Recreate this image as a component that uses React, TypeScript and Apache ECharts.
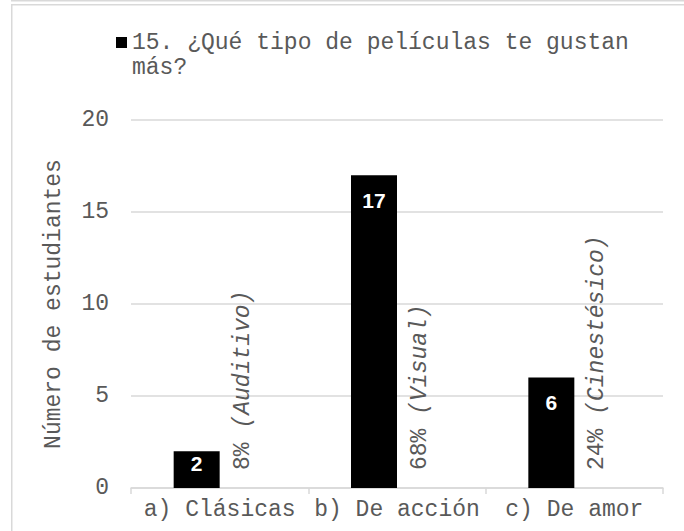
import React, { useEffect, useRef } from "react";
import * as echarts from "echarts";

const categories = ["a) Clásicas", "b) De acción", "c) De amor"];
const students = [2, 17, 6];
const percents = [8, 68, 24];
const learningStyles = ["Auditivo", "Visual", "Cinestésico"];
const yMin = 0;
const yMax = 20;
const yStep = 5;
const seriesName = "15. ¿Qué tipo de películas te gustan más?";
const yAxisTitle = "Número de estudiantes";

const MONO = "'Liberation Mono', 'Courier New', monospace";
const TEXT = "#595959";
const LINE = "#d9d9d9";

export default function App() {
  const ref = useRef<HTMLDivElement>(null);

  useEffect(() => {
    if (!ref.current) return;
    const chart = echarts.init(ref.current, null, { renderer: "svg" });
    chart.setOption({
      animation: false,
      backgroundColor: "#ffffff",
      graphic: [
        {
          type: "line",
          silent: true,
          shape: { x1: 11, y1: 0.75, x2: 700, y2: 0.75 },
          style: { stroke: LINE, lineWidth: 1.5 },
        },
        {
          type: "rect",
          silent: true,
          shape: { x: 11.75, y: 4.75, width: 700, height: 600 },
          style: { fill: "none", stroke: LINE, lineWidth: 1.5 },
        },
      ],
      legend: {
        left: 116,
        top: 30,
        padding: 0,
        data: [seriesName],
        itemWidth: 11,
        itemHeight: 36,
        icon: "path://M0,0L11,0L11,11L0,11ZM0,36",
        formatter: (name: string) => name.replace(" más?", "\nmás?"),
        textStyle: {
          fontFamily: MONO,
          fontSize: 23,
          lineHeight: 25,
          color: TEXT,
        },
      },
      grid: {
        left: 131,
        right: 21,
        top: 120,
        bottom: 43,
        containLabel: false,
        outerBoundsMode: "none",
      },
      xAxis: {
        type: "category",
        data: categories,
        axisLine: { lineStyle: { color: LINE, width: 1.5 } },
        axisTick: { show: true, length: 6, lineStyle: { color: LINE, width: 1.5 } },
        axisLabel: {
          interval: 0,
          margin: 10,
          fontFamily: MONO,
          fontSize: 23,
          color: TEXT,
        },
      },
      yAxis: [
        {
          type: "value",
          min: yMin,
          max: yMax,
          interval: yStep,
          name: yAxisTitle,
          nameLocation: "middle",
          nameGap: 66,
          nameTextStyle: { fontFamily: MONO, fontSize: 23, color: TEXT },
          axisLine: { show: false },
          axisTick: { show: false },
          axisLabel: { margin: 22, fontFamily: MONO, fontSize: 23, color: TEXT },
          splitLine: { lineStyle: { color: LINE, width: 1.5 } },
        },
        {
          type: "value",
          min: 0,
          max: 100,
          show: false,
          splitLine: { show: false },
        },
      ],
      series: [
        {
          name: seriesName,
          type: "bar",
          barWidth: 46,
          barGap: "0%",
          data: students.map((v) => ({
            value: v,
            label: { distance: v < 3 ? 2 : 14.5 },
          })),
          itemStyle: { color: "#000000" },
          label: {
            show: true,
            position: "insideTop",
            color: "#ffffff",
            fontFamily: "'Liberation Sans', Arial, sans-serif",
            fontWeight: "bold",
            fontSize: 21,
          },
        },
        {
          name: "pct",
          type: "bar",
          yAxisIndex: 1,
          barWidth: 46,
          barGap: "0%",
          data: percents,
          itemStyle: { color: "rgba(0,0,0,0)" },
          label: {
            show: true,
            position: "insideBottom",
            rotate: 90,
            align: "left",
            verticalAlign: "middle",
            distance: 18,
            formatter: (p: any) =>
              `{p|${percents[p.dataIndex]}%} {s|(${learningStyles[p.dataIndex]})}`,
            fontFamily: MONO,
            fontSize: 23,
            color: TEXT,
            rich: {
              p: { fontFamily: MONO, fontSize: 23, color: TEXT },
              s: { fontFamily: MONO, fontSize: 23, color: TEXT, fontStyle: "italic" },
            },
          },
        },
      ],
    });
    return () => chart.dispose();
  }, []);

  return (
    <div
      ref={ref}
      style={{ position: "fixed", left: 0, top: 0, width: 684, height: 531, background: "#fff" }}
    />
  );
}
